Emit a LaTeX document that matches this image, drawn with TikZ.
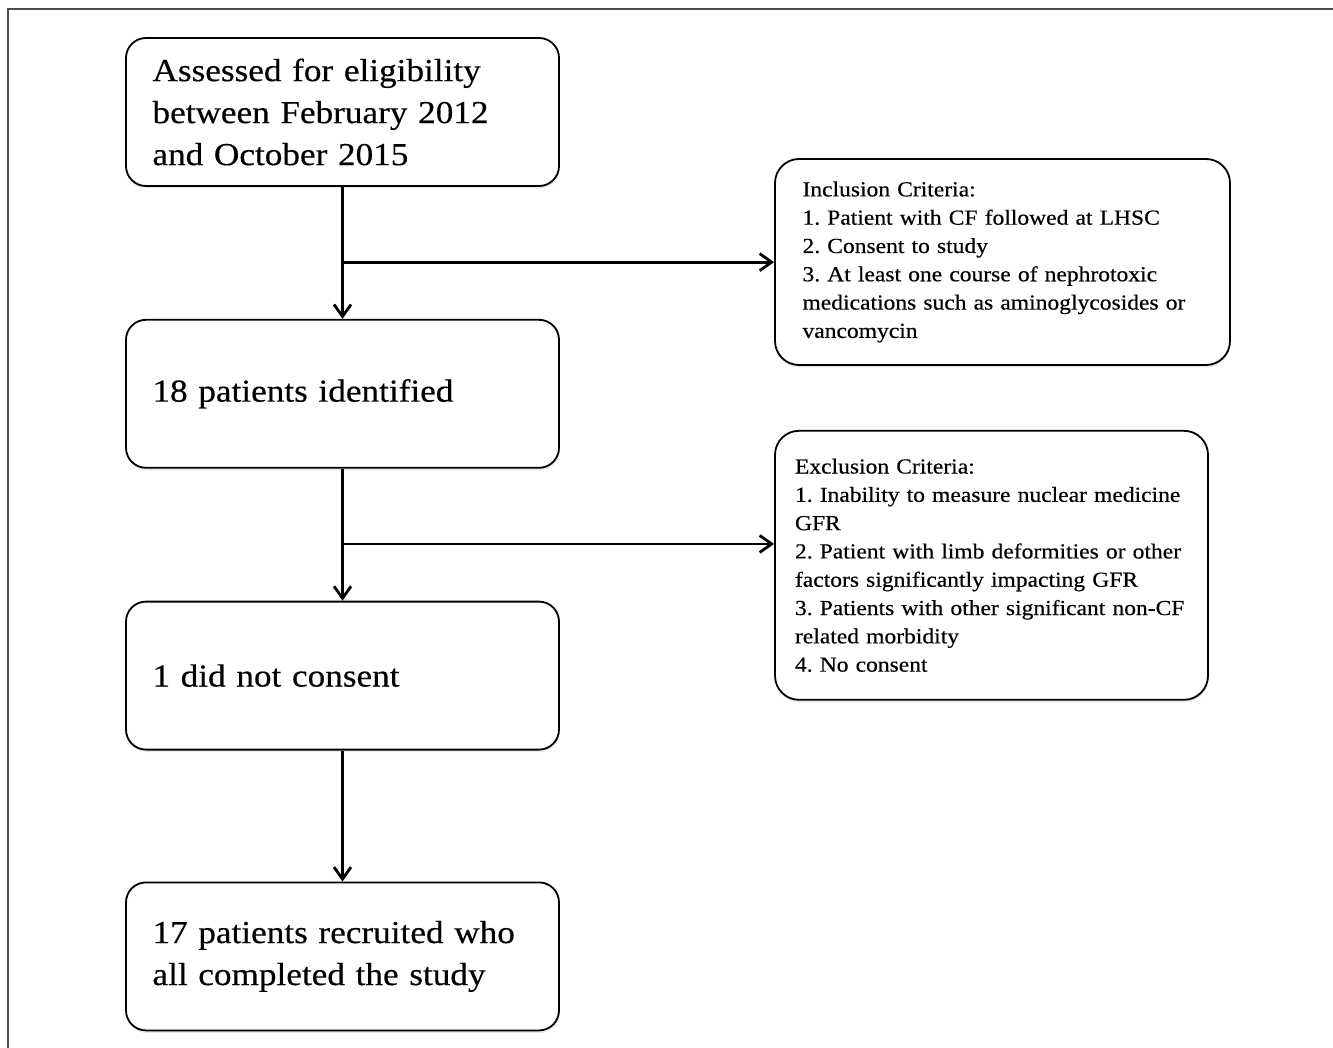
\documentclass[tikz,border=0pt]{standalone}
\usepackage{fontspec}
\setmainfont{Liberation Serif}[FakeStretch=1.1,FakeBold=0.4]
\usetikzlibrary{arrows.meta,calc,positioning,shadows}
\newcommand{\bigtxt}{\fontsize{32}{42}\selectfont\frenchspacing}
\newcommand{\smalltxt}{\fontsize{21.4}{28.3}\selectfont\frenchspacing}
\tikzset{
stepbox/.style={
  rectangle,
  rounded corners=20pt,
  line width=1.8pt,
  draw=black,
  fill=white,
  drop shadow={shadow xshift=0.5pt,shadow yshift=-2.5pt,opacity=0.18},
  minimum width=433pt,
  minimum height=148pt,
  text width=380pt,
  align=left,
  font=\bigtxt,
  }
}
\tikzset{
critbox/.style={
  rectangle,
  rounded corners=24pt,
  line width=1.8pt,
  draw=black,
  fill=white,
  drop shadow={shadow xshift=0.5pt,shadow yshift=-2.5pt,opacity=0.18},
  align=left,
  font=\smalltxt,
  }
}
\tikzset{
flowline/.style={
  line width=2.8pt,
  -{Straight Barb[length=12pt,width=17pt]}
  }
}

\begin{document}
\begin{tikzpicture}[x=1pt,y=-1pt]
    \useasboundingbox (0,0) rectangle (1333,1048);
    % frame
    \draw[line width=2pt, black!70] (8,1048) -- (8,9.5) -- (1333,9.5);

    % main column
    \node[stepbox] (elig) at (342.5,112) {Assessed for eligibility\\between February 2012\\and October 2015};
    \node[stepbox, below=132pt of elig] (ident) {18 patients identified};
    \node[stepbox, below=132pt of ident] (nocons) {1 did not consent};
    \node[stepbox, below=131pt of nocons] (recr) {17 patients recruited who\\all completed the study};

    % criteria part
    \node[critbox, minimum width=455pt, minimum height=206pt, text width=400pt] (incl) at (1002.5,262) {Inclusion Criteria:\\1. Patient with CF followed at LHSC\\2. Consent to study\\3. At least one course of nephrotoxic\\medications such as aminoglycosides or\\vancomycin};
    \node[critbox, minimum width=433pt, minimum height=269pt, text width=393pt, below right=64pt and 0pt of incl.south west] (excl) {Exclusion Criteria:\\1. Inability to measure nuclear medicine\\GFR\\2. Patient with limb deformities or other\\factors significantly impacting GFR\\3. Patients with other significant non-CF\\related morbidity\\4. No consent};

    % branch points
    \coordinate (b1) at ($(elig.south)!0.57!(ident.north)$);
    \coordinate (b2) at ($(ident.south)!0.57!(nocons.north)$);

    % main edges
    \draw[flowline] (elig) -- (ident);
    \draw[flowline] (ident) -- (nocons);
    \draw[flowline] (nocons) -- (recr);

    % criteria edges
    \draw[flowline] (b1) -- (b1 -| incl.west);
    \draw[flowline] (b2) -- (b2 -| excl.west);
\end{tikzpicture}
\end{document}
